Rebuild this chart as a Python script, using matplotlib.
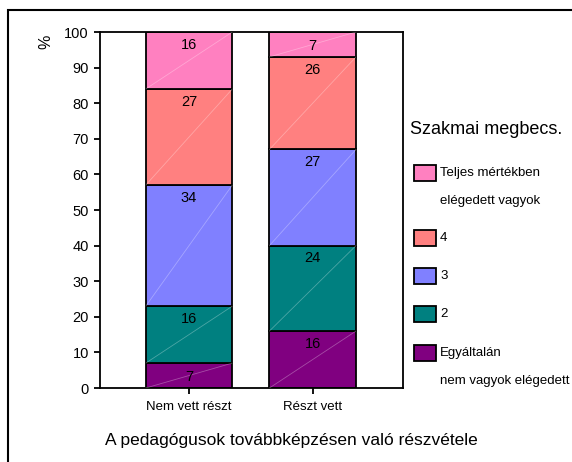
import matplotlib.pyplot as plt
import numpy as np
from matplotlib.patches import Rectangle

plt.rcParams['font.family'] = ['Liberation Sans', 'DejaVu Sans']

categories = ['Nem vett részt', 'Részt vett']
series_names = ['Egyáltalán\nnem vagyok elégedett', '2', '3', '4',
                'Teljes mértékben\nelégedett vagyok']
colors = ['#800080', '#008080', '#8080FF', '#FF8080', '#FF80C0']
values = {
    'Egyáltalán\nnem vagyok elégedett': [7, 16],
    '2': [16, 24],
    '3': [34, 27],
    '4': [27, 26],
    'Teljes mértékben\nelégedett vagyok': [16, 7],
}

W, H = 572, 462
fig = plt.figure(figsize=(W / 100, H / 100), dpi=100)
ax = fig.add_axes([100 / W, 1 - 388 / H, 303 / W, 356 / H])

x = np.arange(len(categories))
w = 0.70
bottom = np.zeros(len(categories))
for name, col in zip(series_names, colors):
    v = np.array(values[name], dtype=float)
    ax.bar(x, v, w, bottom=bottom, color=col, edgecolor='black', linewidth=1.3, zorder=2)
    for xi, bi, vi in zip(x, bottom, v):
        # faint diagonal sheen across each segment
        ax.plot([xi - w / 2, xi + w / 2], [bi, bi + vi], color='white', alpha=0.3,
                linewidth=0.6, zorder=3)
        ax.text(xi, bi + vi - 3.6 if vi > 10 else bi + vi / 2 - 0.5, f'{int(vi)}',
                ha='center', va='center', fontsize=10.5, zorder=4)
    bottom += v

ax.set_xlim(-0.72, 1.73)
ax.set_ylim(0, 100)
ax.set_yticks(range(0, 101, 10))
ax.set_xticks(x)
ax.set_xticklabels(categories, fontsize=9.5)
ax.tick_params(axis='y', labelsize=10.5, length=4, width=1.3, pad=4)
ax.tick_params(axis='x', length=4, width=1.3, pad=5)
for s in ax.spines.values():
    s.set_linewidth(1.3)

fig.text(291 / W, 1 - 441 / H, 'A pedagógusok továbbképzésen való részvétele',
         ha='center', va='center', fontsize=12.5)
fig.text(46 / W, 1 - 42 / H, '%', rotation=90, ha='center', va='center', fontsize=11.5)

# legend drawn by hand, top entry first
fig.text(410 / W, 1 - 129 / H, 'Szakmai megbecs.', ha='left', va='center', fontsize=13)
leg_y = [173, 238, 276, 314, 353]
for name, col, y in zip(series_names[::-1], colors[::-1], leg_y):
    fig.add_artist(Rectangle((414 / W, 1 - (y + 8) / H), 22 / W, 16 / H,
                             transform=fig.transFigure, facecolor=col,
                             edgecolor='black', linewidth=1.3))
    for k, line in enumerate(name.split('\n')):
        fig.text(440 / W, 1 - (y + 28 * k) / H, line, ha='left', va='center',
                 fontsize=9.5)

# outer frame of the chart area
fig.add_artist(Rectangle((8 / W, -0.1), 1.2, 1 - 10 / H + 0.1,
                         transform=fig.transFigure, fill=False,
                         edgecolor='black', linewidth=1.5))

fig.savefig('out.png', dpi=100)
